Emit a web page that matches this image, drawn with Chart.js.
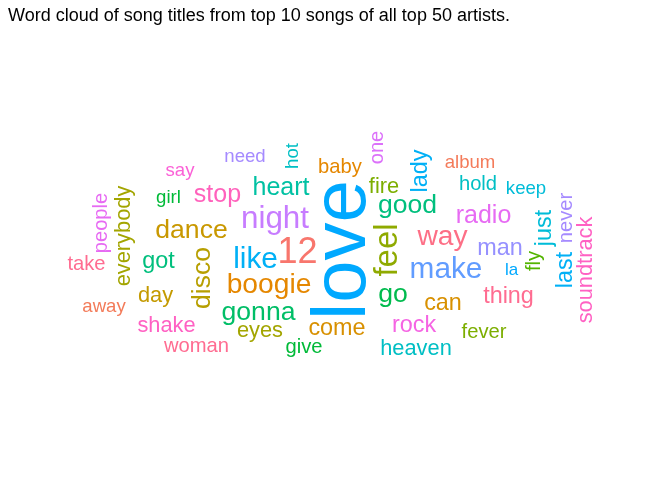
<!DOCTYPE html>
<html>
<head>
<meta charset="utf-8">
<script src="https://cdn.jsdelivr.net/npm/chart.js@4.4.1/dist/chart.umd.min.js"></script>
<style>
  html, body { margin: 0; padding: 0; background: #ffffff; }
  #wrap { width: 672px; height: 480px; position: relative; }
</style>
</head>
<body>
<div id="wrap"><canvas id="c" width="672" height="480"></canvas></div>
<script>
// ---- data ----
const titleText = "Word cloud of song titles from top 10 songs of all top 50 artists.";
const words = ["stop","say","need","girl","dance","take","got","day","away","shake",
  "woman","like","12","boogie","gonna","eyes","give","come","heart","night",
  "baby","fire","good","go","rock","heaven","album","hold","keep","radio",
  "way","man","make","la","thing","can","fever","love","feel","disco",
  "everybody","people","hot","one","lady","fly","just","never","last","soundtrack"];
const counts = [8,4,4,4,9,5,7,6,4,6,
  5,11,15,10,9,6,5,7,8,12,
  5,6,9,9,7,6,4,5,4,8,
  10,7,11,3,7,7,5,40,13,9,
  6,5,4,5,7,5,7,5,7,6];

// ---- layout of the cloud (x = centre, y = baseline for horizontal words;
//      x = baseline, y = centre for vertical words), in layout units ----
const layoutX = [217.5,180,245,168.5,191.5,86.5,158.5,155.5,104,166.5,
  196.5,255.5,297.5,269,258.5,260,304,337,281,275,
  340,384,407.5,393,414,416,470,478,526,483.5,
  442.5,500,446,511.5,508.5,443,484,365,397,210,
  130,107,298,383,427,540,551,572,572,592];
const layoutY = [202,176,162,203,238,270,268,302,312,332,
  352,268,263,293,320,337,353,335,195,228,
  173,193,213,302,332,355,168,190,194,223,
  245,255,278,275,303,310,338,250,250,278,
  236,223,156,147.5,171,261,228,218,270,270];
const vertical = [0,0,0,0,0,0,0,0,0,0,
  0,0,0,0,0,0,0,0,0,0,
  0,0,0,0,0,0,0,0,0,0,
  0,0,0,0,0,0,0,1,1,1,
  1,1,1,1,1,1,1,1,1,1];
const colors = ["#FF62BC","#FB61D7","#A58AFF","#00BA38","#C99800","#FF6C91","#00BF7D","#C49A00","#F37B59","#FF61C3",
  "#FF6C91","#00B0F6","#F8766D","#E58700","#00BE67","#A3A500","#00BA38","#D89000","#00C1A3","#C77CFF",
  "#E58700","#7CAE00","#00BF7D","#00BB4E","#F564E3","#00BFC4","#F47B5A","#00BFC4","#00BCD8","#E76BF3",
  "#FD6F86","#9590FF","#619CFF","#00A9FF","#FF6C91","#D89000","#7CAE00","#00A9FF","#8FAA00","#B79F00",
  "#A3A500","#E76BF3","#00BFC4","#DC71FA","#00B0F6","#53B400","#00BCD8","#A58AFF","#00B0F6","#FF61C3"];

const FONT = '"Liberation Sans", Arial, sans-serif';
const minPx = 17, maxPx = 76;
const cMin = Math.min(...counts), cMax = Math.max(...counts);
function sizeFor(c) { return minPx + (c - cMin) / (cMax - cMin) * (maxPx - minPx); }

const wordPlugin = {
  id: 'wordcloud',
  afterDatasetsDraw(chart) {
    const ctx = chart.ctx;
    const xs = chart.scales.x, ys = chart.scales.y;
    const meta = chart.getDatasetMeta(0);
    meta.data.forEach((pt, i) => {
      const px = xs.getPixelForValue(layoutX[i]);
      const py = ys.getPixelForValue(layoutY[i]);
      ctx.save();
      ctx.translate(px, py);
      if (vertical[i]) ctx.rotate(-Math.PI / 2);
      ctx.font = sizeFor(counts[i]).toFixed(1) + 'px ' + FONT;
      ctx.fillStyle = colors[i];
      ctx.textAlign = 'center';
      ctx.textBaseline = 'alphabetic';
      ctx.fillText(words[i], 0, 0);
      ctx.restore();
    });
  }
};

const titlePlugin = {
  id: 'leftTitle',
  afterDraw(chart) {
    const ctx = chart.ctx;
    ctx.save();
    ctx.font = '18px ' + FONT;
    ctx.fillStyle = '#000000';
    ctx.textAlign = 'left';
    ctx.textBaseline = 'alphabetic';
    ctx.fillText(titleText, 8, 21);
    ctx.restore();
  }
};

new Chart(document.getElementById('c'), {
  type: 'scatter',
  data: {
    labels: words,
    datasets: [{
      data: words.map((w, i) => ({ x: layoutX[i], y: layoutY[i] })),
      pointRadius: 0,
      pointHoverRadius: 0
    }]
  },
  options: {
    responsive: false,
    animation: false,
    layout: { padding: 0 },
    plugins: { legend: { display: false }, tooltip: { enabled: false }, title: { display: false } },
    scales: {
      x: { type: 'linear', min: 0, max: 672, display: false },
      y: { type: 'linear', min: 0, max: 480, reverse: true, display: false }
    }
  },
  plugins: [wordPlugin, titlePlugin]
});
</script>
</body>
</html>
